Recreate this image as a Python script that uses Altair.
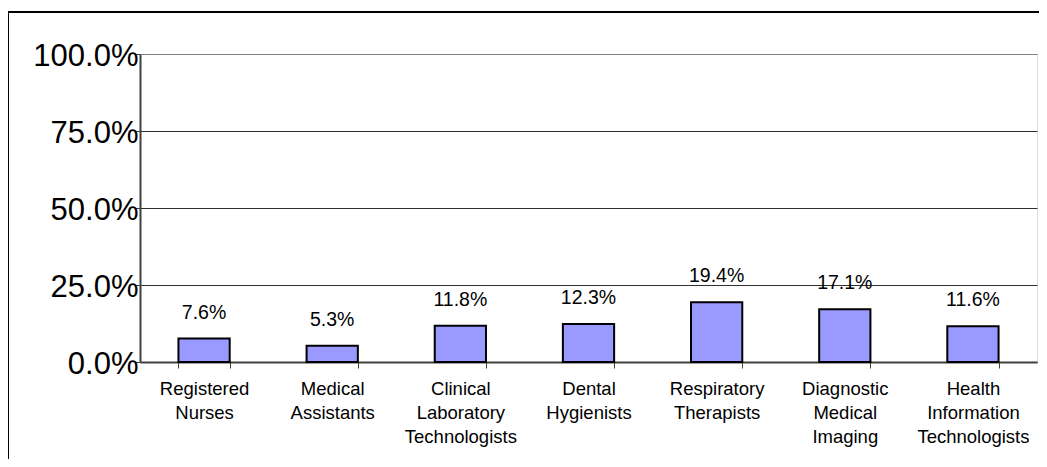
import altair as alt
import pandas as pd

categories = ["Registered Nurses", "Medical Assistants", "Clinical Laboratory Technologists",
              "Dental Hygienists", "Respiratory Therapists", "Diagnostic Medical Imaging",
              "Health Information Technologists"]
values = [7.6, 5.3, 11.8, 12.3, 19.4, 17.1, 11.6]
y_ticks = [0, 0.25, 0.5, 0.75, 1.0]

df = pd.DataFrame({"cat": categories, "val": [v / 100 for v in values]})

FONT = "Liberation Sans"
W, H = 897, 308

x_enc = alt.X("cat:N", sort=categories, title=None,
              scale=alt.Scale(paddingInner=0.6, paddingOuter=0.3),
              axis=alt.Axis(labelAngle=0, labelExpr="split(datum.label, ' ')",
                            labelFontSize=18.5, labelFont=FONT, labelColor="#000000",
                            labelLineHeight=24, labelPadding=11, labelBaseline="top",
                            tickBand="extent", tickSize=6, tickColor="#404040",
                            domainColor="#404040", domainWidth=2, grid=False,
                            labelLimit=200))
y_enc = alt.Y("val:Q", title=None,
              scale=alt.Scale(domain=[0, 1], nice=False),
              axis=alt.Axis(values=y_ticks, format=".1%", labelFontSize=31, labelFont=FONT,
                            labelColor="#000000", labelPadding=-3, tickSize=5,
                            tickColor="#404040", domainColor="#404040", domainWidth=2,
                            gridColor=alt.condition("datum.value == 1", alt.value("#808080"),
                                                    alt.value("#303030")),
                            gridWidth=1, labelOffset=2))

bars = alt.Chart(df).mark_bar(color="#9999FF", stroke="#000000", strokeWidth=2).encode(
    x=x_enc, y=y_enc)

labels = alt.Chart(df).mark_text(font=FONT, fontSize=19.5, dy=-20, baseline="alphabetic",
                                 color="#000000").encode(
    x=alt.X("cat:N", sort=categories),
    y=alt.Y("val:Q"),
    text=alt.Text("val:Q", format=".1%"))

frame_top = alt.Chart(df).mark_rule(color="#000000", strokeWidth=2).encode(
    x=alt.value(-132), x2=alt.value(W + 10), y=alt.value(-42))
frame_left = alt.Chart(df).mark_rule(color="#000000", strokeWidth=2).encode(
    x=alt.value(-132), y=alt.value(-42), y2=alt.value(H + 100))

chart = alt.layer(frame_top, frame_left, bars, labels).properties(
    width=W, height=H,
    autosize=alt.AutoSizeParams(type="none"),
    padding={"left": 132, "top": 46, "right": 2, "bottom": 97},
).configure_view(stroke="#808080", strokeWidth=2).configure(background="white")

chart.save("out.html", embed_options={"renderer": "svg", "actions": False})
